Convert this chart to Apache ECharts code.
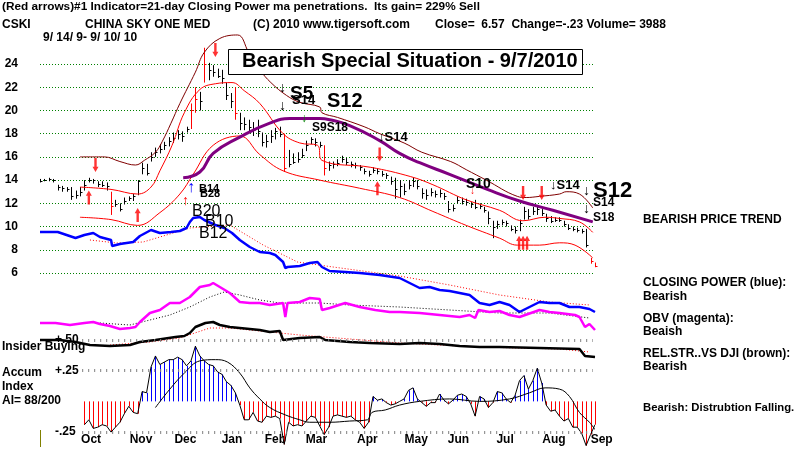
<!DOCTYPE html>
<html>
<head>
<meta charset="utf-8">
<script src="https://cdn.jsdelivr.net/npm/echarts@6/dist/echarts.min.js"></script>
<style>
  html, body { margin: 0; background: #fff; }
  #chart { width: 800px; height: 457px; }
</style>
</head>
<body>
<div id="chart"></div>
<script>
// x is counted in trading days from 9/14/2009
const monthNames = ['Oct', 'Nov', 'Dec', 'Jan', 'Feb', 'Mar', 'Apr', 'May', 'Jun', 'Jul', 'Aug', 'Sep']
const monthDays = [23, 45.5, 65.5, 86.5, 106, 124.5, 147.5, 169.5, 188.5, 209.5, 231.5, 253]

// price bars, one every 2 trading days
const barHigh = [14.1, 14.1, 14.2, 14.1, 13.6, 13.5, 13.4, 13.4, 13.1, 13.4,
  14.0, 14.2, 14.1, 13.9, 13.9, 13.8, 13.0, 12.3, 12.0, 12.5,
  12.6, 12.8, 14.0, 15.5, 15.4, 16.4, 16.8, 17.1, 17.3, 17.7,
  18.1, 18.3, 18.2, 18.6, 20.6, 22.0, 21.6, 25.4, 24.1, 23.9,
  23.6, 23.5, 22.4, 21.5, 22.0, 19.8, 19.4, 19.2, 19.0, 19.2,
  18.1, 17.9, 18.3, 18.5, 18.6, 18.0, 16.6, 16.3, 16.4, 16.7,
  17.4, 17.7, 17.6, 17.3, 17.0, 15.6, 15.6, 15.8, 16.1, 15.9,
  15.6, 15.5, 15.3, 15.0, 14.8, 15.1, 15.0, 14.8, 14.6, 14.3,
  14.2, 14.0, 13.7, 14.0, 14.2, 14.0, 13.3, 13.2, 13.3, 13.1,
  13.2, 12.9, 12.2, 11.9, 12.6, 12.5, 12.4, 12.1, 12.3, 12.0,
  11.7, 11.3, 10.5, 10.5, 10.6, 10.5, 10.1, 10.0, 10.6, 11.7,
  11.5, 11.7, 11.7, 11.5, 11.1, 10.9, 10.8, 10.8, 10.5, 10.2,
  10.0, 9.9, 9.8, 9.8, 7.3, 6.9]
const barLow = [13.8, 13.9, 13.9, 13.8, 13.1, 13.0, 13.0, 12.3, 12.4, 12.6,
  13.1, 13.8, 13.7, 13.4, 13.4, 13.1, 11.0, 11.7, 11.3, 11.9,
  12.2, 12.2, 12.7, 14.5, 14.4, 15.6, 16.0, 16.3, 16.6, 16.9,
  17.2, 17.5, 17.3, 18.1, 18.4, 19.8, 20.0, 22.4, 22.6, 22.9,
  22.8, 22.3, 20.9, 20.2, 19.2, 18.3, 18.3, 18.1, 17.8, 17.7,
  16.9, 16.8, 17.2, 17.5, 17.7, 14.7, 15.1, 15.4, 15.5, 15.9,
  16.5, 17.1, 16.9, 16.8, 14.4, 14.8, 15.0, 15.2, 15.5, 15.3,
  15.1, 15.0, 14.8, 14.5, 14.3, 14.6, 14.5, 14.3, 14.1, 13.6,
  12.4, 12.5, 12.7, 13.2, 13.4, 13.2, 12.4, 12.3, 12.6, 12.5,
  12.5, 12.3, 11.2, 11.3, 12.0, 11.9, 11.8, 11.6, 11.5, 11.5,
  11.2, 10.2, 9.0, 9.8, 10.1, 10.0, 9.6, 9.4, 9.6, 10.6,
  10.6, 11.0, 11.0, 10.9, 10.4, 10.3, 10.4, 10.4, 10.0, 9.7,
  9.6, 9.5, 9.4, 8.2, 6.8, 6.5]
const barClose = [13.9, 14.0, 14.1, 14.0, 13.4, 13.3, 13.2, 12.6, 12.7, 13.0,
  13.6, 14.0, 14.0, 13.7, 13.6, 13.5, 11.8, 11.9, 11.5, 12.2,
  12.5, 12.6, 13.9, 15.0, 14.6, 16.0, 16.4, 16.7, 17.0, 17.4,
  17.6, 18.0, 17.8, 18.4, 20.0, 21.0, 20.8, 24.0, 23.5, 23.3,
  23.0, 22.8, 21.3, 20.8, 19.8, 18.9, 18.8, 18.6, 18.3, 18.2,
  17.3, 17.4, 17.8, 18.2, 18.0, 15.0, 15.4, 15.6, 15.8, 16.2,
  17.0, 17.5, 17.3, 17.0, 15.0, 15.3, 15.4, 15.5, 15.8, 15.6,
  15.4, 15.3, 15.1, 14.8, 14.5, 14.9, 14.8, 14.5, 14.4, 13.9,
  13.2, 13.5, 13.1, 13.6, 13.9, 13.5, 12.9, 12.7, 13.0, 12.8,
  12.9, 12.6, 11.5, 11.6, 12.3, 12.2, 12.1, 11.9, 11.7, 11.8,
  11.4, 10.7, 10.0, 10.2, 10.4, 10.3, 9.8, 9.7, 10.3, 11.3,
  10.9, 11.3, 11.5, 11.2, 10.7, 10.5, 10.6, 10.6, 10.2, 9.9,
  9.8, 9.7, 9.6, 8.4, 7.0, 6.57]
const redBars = [16, 34, 35, 37, 44, 55, 64, 124, 125]

// price bands and the long moving average: [day, price]
const upperBand = [[18, 16.0], [29, 16.0], [36, 15.6], [43, 15.3], [47, 15.7], [52, 16.4], [55, 17.3], [59, 18.9],
  [63, 20.6], [70, 23.3], [74, 25.0], [81, 26.2], [89, 26.5], [94, 25.0], [99, 23.5], [104, 22.4], [111, 21.3],
  [117, 20.7], [126, 20.3], [127, 19.8], [134, 19.4], [146, 18.6], [153, 18.0], [164, 17.2], [172, 16.4],
  [185, 15.6], [192, 14.9], [201, 14.0], [215, 12.6], [219, 12.5], [225, 12.6], [234, 12.8], [237, 13.0],
  [243, 12.8], [249, 11.6]]
const midBand = [[18, 13.4], [32, 13.2], [44, 12.8], [50, 13.4], [54, 14.8], [59.5, 17.0], [65, 19.8], [72, 21.8],
  [79, 22.3], [86.5, 22.4], [92, 21.7], [99, 20.6], [109.5, 18.0], [117, 17.2], [125, 17.0], [127, 15.7],
  [149, 15.1], [167, 14.3], [177, 13.6], [192, 12.3], [207, 11.4], [217.5, 10.5], [227.5, 10.8], [234, 10.7],
  [243, 10.4], [249, 9.5]]
const lowerBand = [[18, 10.8], [32, 10.6], [44, 10.1], [54, 11.2], [63, 12.8], [69, 14.5], [78, 17.0], [90, 17.8],
  [99, 16.2], [109.5, 14.8], [126, 14.0], [144, 13.3], [162, 12.5], [177, 11.3], [192, 10.1], [207, 9.0],
  [215, 8.4], [225, 8.4], [234, 8.6], [241, 8.4], [249, 7.3]]
const longMa = [[64.5, 14.2], [72, 14.7], [78, 16.3], [90, 17.7], [103.5, 18.9], [112.5, 19.3], [126, 19.3],
  [130.5, 19.2], [139.5, 18.7], [153, 17.4], [162, 16.3], [171, 15.5], [184.5, 14.5], [201.5, 13.2],
  [216, 12.2], [231, 11.4], [249, 10.4]]

// signal arrows: [day, price]
const upArrows = [[22, 12.5], [44, 11.0], [152, 13.3], [215.8, 8.6], [217.6, 8.6], [219.4, 8.6]]
const downArrows = [[25, 15.3], [79, 25.2], [153, 16.2], [217.6, 12.9], [226, 12.9]]

// lower indicators, plotted in panel units: [day, value]
const closingPower = [[0, 133], [8, 133], [16, 127], [20, 130], [24, 132], [27, 128], [32, 125], [32.5, 119],
  [36, 121], [42, 123], [45, 129], [50, 135], [54, 132], [59, 133], [63, 134], [66, 137], [67.5, 143], [69, 147],
  [72, 148], [74, 145], [79, 140], [83, 137], [86.5, 132], [90, 125], [94.5, 118], [99, 113], [103.5, 112],
  [106, 110], [109.5, 103], [110.5, 97], [111.5, 98], [117, 99], [121.5, 102], [125, 103], [127, 98],
  [130.5, 94], [137.5, 93], [144, 92], [153, 90], [162, 87], [166.5, 82], [171, 77], [175.5, 78], [180, 75],
  [184.5, 74], [189, 72], [193.5, 70], [198, 62], [202.5, 60], [207, 63], [211.5, 60], [216, 53], [220.5, 58],
  [225, 63], [229.5, 62], [234, 62], [238.5, 58], [243, 58], [247.5, 56], [250, 53]]
const closingPowerMa = [[22.5, 125], [34.5, 122], [46.5, 123], [61.5, 133], [67.5, 137], [85.5, 140],
  [100.5, 120], [116, 103], [132, 98], [162, 89], [184.5, 80], [207, 70], [229.5, 63], [247.5, 60]]
const obv = [[0, 42], [7, 42], [13.5, 40], [20, 42], [24, 43], [27, 41], [31.5, 39], [36, 36], [40.5, 37],
  [43, 38], [45, 43], [47.5, 48], [49.5, 52], [54, 55], [58.5, 62], [63, 62], [67.5, 68], [72, 78], [76.5, 80],
  [78, 82], [81, 78], [85.5, 72], [90, 63], [94.5, 62], [99, 62], [103.5, 60], [109.5, 62], [110.5, 48],
  [111.5, 62], [117, 63], [121.5, 67], [126, 66], [127, 55], [130.5, 57], [137.5, 62], [144, 58], [151, 55],
  [157.5, 53], [162, 53], [171, 52], [180, 50], [189, 48], [193.5, 50], [196, 47], [197.5, 55], [202.5, 53],
  [207, 54], [211.5, 50], [216, 48], [225, 55], [229.5, 53], [234, 52], [241, 50], [243, 48], [245.5, 38],
  [247.5, 41], [250, 35]]
const obvMa = [[27, 42], [40.5, 40], [49.5, 45], [58.5, 50], [67.5, 58], [76.5, 68], [83, 73], [90, 70],
  [99, 65], [108, 62], [126, 62], [139.5, 60], [162, 58], [184.5, 55], [207, 52], [229.5, 52], [247.5, 47]]
const relStrength = [[0, 25], [9, 25], [16, 23], [22.5, 20], [31.5, 19], [40.5, 20], [45, 23], [52, 25],
  [61, 28], [65, 29], [67.5, 32], [70, 38], [74.5, 42], [78, 43], [81, 40], [85.5, 38], [90, 37], [99, 35],
  [103.5, 33], [108, 34], [109.5, 25], [117, 27], [126, 28], [128.5, 25], [139.5, 23], [148.5, 22], [162, 21],
  [171, 22], [180, 21], [189, 19], [198, 18], [207, 18], [225, 17], [243, 16], [245.5, 9], [250, 8]]
const relStrengthMa = [[31.5, 20], [49.5, 23], [63, 27], [76.5, 37], [85.5, 37], [99, 34], [117, 30],
  [139.5, 26], [162, 22], [198, 18], [234, 16], [247.5, 13]]
const insiderLevel = 18

// accumulation index, one value every 2 trading days from day 20
const aiStartDay = 20
const aiValues = [-0.19, -0.15, -0.22, -0.21, -0.19, -0.20, -0.25, -0.21, -0.17, -0.10,
  -0.04, -0.09, -0.10, 0.08, 0.07, 0.28, 0.37, 0.30, 0.32, 0.34,
  0.34, 0.36, 0.34, 0.29, 0.33, 0.45, 0.37, 0.33, 0.30, 0.29,
  0.24, 0.22, 0.16, 0.13, 0.07, -0.03, -0.15, -0.15, -0.09, -0.16,
  -0.17, -0.12, -0.13, -0.12, -0.14, -0.35, -0.17, -0.20, -0.19, -0.20,
  -0.16, -0.12, -0.13, -0.20, -0.27, -0.21, -0.12, -0.11, -0.12, -0.13,
  -0.12, -0.15, -0.17, -0.22, -0.17, 0.04, 0.01, 0.02, -0.01, -0.03,
  -0.02, 0.00, 0.02, 0.09, 0.11, 0.02, -0.01, -0.04, -0.01, -0.01,
  0.06, 0.01, -0.02, 0.01, 0.05, 0.06, 0.04, -0.02, -0.12, 0.04,
  0.02, -0.05, -0.01, 0.08, 0.07, 0.02, -0.01, 0.05, 0.17, 0.21,
  0.10, 0.17, 0.27, 0.15, -0.03, -0.08, -0.07, -0.12, -0.16, -0.14,
  -0.21, -0.21, -0.26, -0.36, -0.27, -0.19]
const aiMa = [[52, -0.05], [58.5, 0.10], [65, 0.23], [72, 0.33], [79, 0.34], [84.5, 0.32], [90, 0.23],
  [94.5, 0.11], [99, 0.02], [103.5, -0.05], [110.5, -0.11], [117, -0.15], [121.5, -0.17], [130.5, -0.17],
  [139.5, -0.16], [147.5, -0.15], [149.5, -0.09], [155.5, -0.07], [162, -0.03], [171, 0.0], [184.5, 0.02],
  [198, 0.0], [211.5, 0.02], [220.5, 0.07], [227.5, 0.11], [234, 0.10], [238.5, 0.04], [243, -0.09],
  [247.5, -0.17], [250, -0.23]]
const aiTickValues = [0.5, 0.25, -0.25]
const aiTickLabels = ['+.50', '+.25', '-.25']

const DAY_PX = 2.22
const LEFT = 40
const PLOT_W = 554
const MONTH_W = 580
const FONT = '"Liberation Sans", Arial, sans-serif'
const ARROW = 'path://M5,0L10,6L7,6L7,16L3,16L3,6L0,6Z'

const chart = echarts.init(document.getElementById('chart'), null, { renderer: 'canvas' })

function xAxis (gridIndex, width, extra) {
  return Object.assign({
    type: 'value', gridIndex, min: 0, max: width / DAY_PX, show: false
  }, extra || {})
}

function line (data, axis, color, width, type, smooth) {
  return {
    type: 'line',
    xAxisIndex: axis,
    yAxisIndex: axis,
    data,
    symbol: 'none',
    smooth: smooth || false,
    clip: false,
    silent: true,
    animation: false,
    lineStyle: { color, width, type: type || 'solid' }
  }
}

function renderBar (params, api) {
  const day = api.value(0)
  const hi = api.coord([day, api.value(1)])
  const lo = api.coord([day, api.value(2)])
  const cl = api.coord([day, api.value(3)])
  const x = Math.round(hi[0]) + 0.5
  const y = Math.round(cl[1]) + 0.5
  const stroke = api.value(4) ? '#ff0000' : '#000000'
  return {
    type: 'group',
    children: [
      { type: 'line', shape: { x1: x, y1: hi[1], x2: x, y2: lo[1] }, style: { stroke, lineWidth: 1 } },
      { type: 'line', shape: { x1: x, y1: y, x2: x + 2, y2: y }, style: { stroke, lineWidth: 1 } }
    ]
  }
}

function renderAi (params, api) {
  const day = api.value(0)
  const v = api.value(1)
  const base = api.coord([day, 0])
  const tip = api.coord([day, v])
  const x = Math.round(base[0]) + 0.5
  return {
    type: 'line',
    shape: { x1: x, y1: base[1], x2: x, y2: tip[1] },
    style: { stroke: v >= 0 ? '#0000ff' : '#ff0000', lineWidth: 1 }
  }
}

function text (str, left, top, font, fill) {
  return { type: 'text', left, top, z: 100, style: { text: str, font: font || 'bold 12px ' + FONT, fill: fill || '#000' } }
}

const bars = barClose.map((c, i) => [i * 2, barHigh[i], barLow[i], c, redBars.includes(i) ? 1 : 0])
const aiData = aiValues.map((v, i) => [aiStartDay + i * 2, v])

const option = {
  backgroundColor: '#ffffff',
  animation: false,
  grid: [
    { left: LEFT, top: 64, width: PLOT_W, height: 209, outerBoundsMode: 'none' },
    { left: LEFT, top: 215, width: PLOT_W, height: 150, outerBoundsMode: 'none' },
    { left: LEFT, top: 340, width: PLOT_W, height: 110.5, outerBoundsMode: 'none' },
    { left: LEFT, top: 400, width: MONTH_W, height: 30, outerBoundsMode: 'none' }
  ],
  xAxis: [
    xAxis(0, PLOT_W),
    xAxis(1, PLOT_W),
    xAxis(2, PLOT_W),
    xAxis(3, MONTH_W, {
      show: true,
      position: 'bottom',
      axisLine: { show: false },
      axisTick: { show: false },
      splitLine: { show: false },
      axisLabel: {
        customValues: monthDays,
        margin: 4,
        color: '#000',
        fontFamily: FONT,
        fontWeight: 'bold',
        fontSize: 12,
        formatter: v => monthNames[monthDays.indexOf(v)]
      }
    })
  ],
  yAxis: [
    {
      type: 'value',
      gridIndex: 0,
      min: 6,
      max: 24,
      interval: 2,
      axisLine: { show: false },
      axisTick: { show: false },
      axisLabel: { margin: 22, color: '#000', fontFamily: FONT, fontWeight: 'bold', fontSize: 12 },
      splitLine: { show: true, lineStyle: { color: '#008000', width: 1, type: [1, 2] } }
    },
    { type: 'value', gridIndex: 1, min: 0, max: 150, show: false },
    {
      type: 'value',
      gridIndex: 2,
      min: -0.4,
      max: 0.5,
      axisLine: { show: false },
      axisTick: { show: false },
      splitLine: { show: false },
      axisLabel: {
        inside: true,
        margin: 15,
        customValues: aiTickValues,
        color: '#000',
        fontFamily: FONT,
        fontWeight: 'bold',
        fontSize: 12,
        formatter: v => aiTickLabels[aiTickValues.indexOf(v)]
      }
    },
    { type: 'value', gridIndex: 3, min: 0, max: 1, show: false }
  ],
  series: [
    // upper panel
    line(upperBand, 0, '#800000', 1, 'solid', 0.4),
    line(midBand, 0, '#ff0000', 1, 'solid', 0.4),
    line(lowerBand, 0, '#ff0000', 1, 'solid', 0.4),
    line(longMa, 0, '#800080', 3, 'solid', 0.5),
    {
      type: 'custom',
      xAxisIndex: 0,
      yAxisIndex: 0,
      data: bars,
      renderItem: renderBar,
      clip: false,
      silent: true,
      z: 3
    },
    {
      type: 'scatter',
      xAxisIndex: 0,
      yAxisIndex: 0,
      data: upArrows,
      symbol: ARROW,
      symbolSize: [6, 14],
      itemStyle: { color: '#ff0000' },
      clip: false,
      silent: true,
      z: 4
    },
    {
      type: 'scatter',
      xAxisIndex: 0,
      yAxisIndex: 0,
      data: downArrows,
      symbol: ARROW,
      symbolRotate: 180,
      symbolSize: [6, 14],
      itemStyle: { color: '#ff0000' },
      clip: false,
      silent: true,
      z: 4
    },
    // closing power, OBV, relative strength
    line(closingPowerMa, 1, '#ff0000', 1, [1, 2]),
    line(closingPower, 1, '#0000ff', 2.5),
    line(obvMa, 1, '#000000', 1, [1, 2]),
    line(obv, 1, '#ff00ff', 2.5),
    line(relStrengthMa, 1, '#ff0000', 1, [1, 2]),
    Object.assign(line(relStrength, 1, '#000000', 2.5), {
      markLine: {
        silent: true,
        symbol: 'none',
        label: { show: false },
        lineStyle: { color: '#700060', width: 1.5, type: 'solid' },
        data: [[{ coord: [19, insiderLevel] }, { coord: [250, insiderLevel] }]]
      }
    }),
    // accumulation index
    {
      type: 'custom',
      xAxisIndex: 2,
      yAxisIndex: 2,
      data: aiData,
      renderItem: renderAi,
      clip: false,
      silent: true
    },
    line(aiData, 2, '#000000', 1),
    Object.assign(line(aiMa, 2, '#000000', 1, 'solid', 0.4), {
      markLine: {
        silent: true,
        symbol: 'none',
        label: { show: false },
        lineStyle: { color: '#808080', width: 3, type: [1, 5] },
        data: aiTickValues.map(v => [{ coord: [19, v] }, { coord: [249, v] }])
      }
    })
  ],
  graphic: [
    text('(Red arrows)#1 Indicator=21-day Closing Power ma penetrations.  Its gain= 229% Sell', 2, 1, 'bold 11.8px ' + FONT),
    text('CSKI', 2, 19),
    text('CHINA SKY ONE MED', 85, 19),
    text('(C) 2010 www.tigersoft.com', 253, 19),
    text('Close=  6.57  Change=-.23 Volume= 3988', 435, 19),
    text('9/ 14/ 9- 9/ 10/ 10', 43, 32),
    {
      type: 'rect',
      z: 90,
      shape: { x: 228.5, y: 49.5, width: 354, height: 25 },
      style: { fill: '#fff', stroke: '#000', lineWidth: 1 }
    },
    text('Bearish Special Situation - 9/7/2010', 242, 51, 'bold 20px ' + FONT),
    // signals
    text('\u2193', 279, 81, '14px ' + FONT),
    text('\u2193', 279, 99, '14px ' + FONT),
    text('S14', 292, 94, 'bold 13px ' + FONT),
    text('S5', 290, 84, 'bold 19px ' + FONT),
    text('S12', 327, 91, 'bold 20px ' + FONT),
    text('\u2193', 301, 113, 'bold 12px ' + FONT, '#008000'),
    text('S9S18', 312, 122, 'bold 12px ' + FONT),
    text('\u2193S14', 378, 131, 'bold 13px ' + FONT),
    text('S10', 466, 177, 'bold 14px ' + FONT),
    text('\u2193', 470, 186, 'bold 10px ' + FONT, '#ff0000'),
    text('\u2193S14', 550, 179, 'bold 13px ' + FONT),
    text('S12', 593, 180, 'bold 22px ' + FONT),
    text('\u2193', 583, 184, '14px ' + FONT),
    text('\u2193', 583, 202, '14px ' + FONT),
    text('S14', 593, 197, 'bold 12px ' + FONT),
    text('S18', 593, 212, 'bold 12px ' + FONT),
    text('\u2191', 187, 180, '16px ' + FONT, '#0000ff'),
    text('\u2191', 182, 194, '14px ' + FONT, '#ff0000'),
    text('B14', 199, 183, 'bold 11px ' + FONT),
    text('B28', 200, 188, 'bold 11px ' + FONT),
    text('B20', 192, 204, '16px ' + FONT),
    text('B10', 205, 214, '16px ' + FONT),
    text('B12', 199, 226, '16px ' + FONT),
    // right side legend
    text('BEARISH PRICE TREND', 643, 214),
    text('CLOSING POWER (blue):', 643, 277),
    text('Bearish', 643, 291),
    text('OBV (magenta):', 643, 313),
    text('Beaish', 643, 326),
    text('REL.STR..VS DJI (brown):', 643, 348),
    text('Bearish', 643, 361),
    text('Bearish: Distrubtion Falling.', 643, 402, 'bold 11.3px ' + FONT),
    // left side labels
    text('Insider Buying', 2, 341),
    text('Accum', 2, 367),
    text('Index', 2, 381),
    text('AI= 88/200', 2, 395),
    {
      type: 'line',
      z: 100,
      shape: { x1: 40.5, y1: 430, x2: 40.5, y2: 447 },
      style: { stroke: '#808000', lineWidth: 1 }
    }
  ]
}

chart.setOption(option)
</script>
</body>
</html>
